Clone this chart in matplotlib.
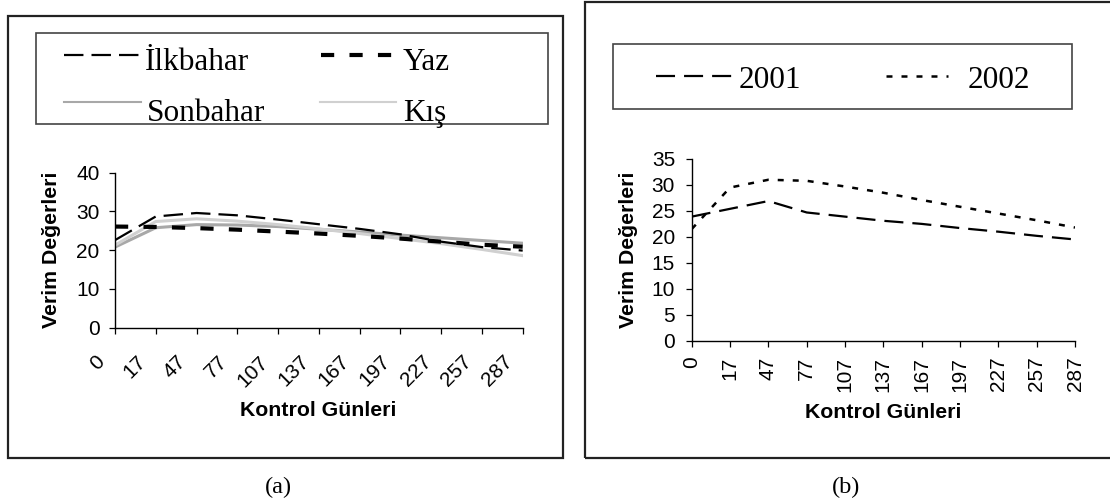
import matplotlib
matplotlib.use("Agg")
import matplotlib.pyplot as plt
from matplotlib.lines import Line2D
from matplotlib.patches import Rectangle
from matplotlib.transforms import ScaledTranslation

plt.rcParams['font.family'] = ['Liberation Sans', 'DejaVu Sans']
plt.rcParams['lines.scale_dashes'] = False

# control days (category axis)
days = ['0', '17', '47', '77', '107', '137', '167', '197', '227', '257', '287']

# (a) seasons
ilkbahar = [22.6, 28.7, 29.6, 29.0, 27.9, 26.7, 25.5, 24.1, 22.2, 20.8, 19.9]
yaz = [26.1, 26.0, 25.7, 25.3, 24.8, 24.3, 23.7, 23.0, 22.2, 21.4, 20.9]
sonbahar = [20.8, 25.8, 26.6, 26.5, 26.1, 25.4, 24.7, 23.9, 23.2, 22.5, 21.8]
kis = [21.3, 27.4, 28.1, 27.5, 26.6, 25.5, 24.3, 23.0, 21.7, 20.2, 18.6]

# (b) years
y2001 = [23.9, 25.4, 26.9, 24.7, 23.9, 23.1, 22.5, 21.7, 21.0, 20.2, 19.5]
y2002 = [21.5, 29.5, 31.0, 30.8, 29.7, 28.5, 27.1, 25.8, 24.5, 23.2, 21.8]

W, H = 1110, 503
fig = plt.figure(figsize=(W / 100, H / 100), dpi=100)


def fx(x):
    return x / W


def fy(y):
    return 1 - y / H


def box(x0, y0, x1, y1, lw, color):
    fig.add_artist(Rectangle((fx(x0), fy(y1)), fx(x1) - fx(x0), fy(y0) - fy(y1),
                             transform=fig.transFigure, fill=False,
                             lw=lw, edgecolor=color))


def key(x0, x1, y, style, label, tx, ty, lw=None):
    st = dict(style)
    if lw:
        st['lw'] = lw
    fig.add_artist(Line2D([fx(x0), fx(x1)], [fy(y), fy(y)],
                          transform=fig.transFigure, **st))
    fig.text(fx(tx), fy(ty), label, family=['Liberation Serif'], fontsize=22.5,
             va='baseline', ha='left')


st_ilk = dict(color='black', lw=1.6, dashes=(14, 5.8))
st_yaz = dict(color='black', lw=3.0, dashes=(9.5, 11))
st_son = dict(color='#a8a8a8', lw=2.2)
st_kis = dict(color='#d0d0d0', lw=2.2)
st_01 = dict(color='black', lw=1.6, dashes=(13.7, 6.5))
st_02 = dict(color='black', lw=1.8, dashes=(4.3, 6.5))


def style_axes(ax, ymax, ystep, ypad):
    for s in ['top', 'right']:
        ax.spines[s].set_visible(False)
    for s in ['left', 'bottom']:
        ax.spines[s].set_linewidth(1.0)
    ax.set_xlim(0, len(days) - 1)
    ax.set_ylim(0, ymax)
    ax.set_yticks(range(0, ymax + 1, ystep))
    ax.set_xticks(range(len(days)))
    ax.tick_params(axis='both', direction='out', length=4.5, width=0.9,
                   labelsize=15)
    ax.tick_params(axis='y', pad=ypad)
    ax.set_ylabel('Verim Değerleri', fontsize=15.3, fontweight='bold')
    ax.set_xlabel('Kontrol Günleri', fontsize=15.3, fontweight='bold')


# ---- panel (a)
box(8, 16, 563, 458, 1.6, '#222222')
axa = fig.add_axes([fx(115), fy(327.7), fx(522.7) - fx(115), fy(172.7) - fy(327.7)])
x = range(len(days))
axa.plot(x, sonbahar, **st_son)
axa.plot(x, kis, **st_kis)
axa.plot(x, yaz, **st_yaz)
axa.plot(x, ilkbahar, **st_ilk)
style_axes(axa, 40, 10, 6.5)
axa.set_xticklabels(days, rotation=45, ha='right', va='center',
                    rotation_mode='anchor')
axa.tick_params(axis='x', pad=18)
off = ScaledTranslation(-13 / 100, 0, fig.dpi_scale_trans)
for t in axa.get_xticklabels():
    t.set_transform(t.get_transform() + off)
axa.xaxis.set_label_coords((318 - 115) / 407.7, (327.7 - 410) / 155)
axa.xaxis.label.set_va('center')
axa.yaxis.set_label_coords((52 - 115) / 407.7, 0.5)
axa.yaxis.label.set_va('center')

box(36, 33, 548, 124, 1.2, '#444444')
key(64, 139, 55, st_ilk, 'İlkbahar', 145, 70)
key(321, 395, 55, st_yaz, 'Yaz', 403, 70)
key(64, 141, 102, st_son, 'Sonbahar', 147, 121, lw=1.5)
key(320, 396, 102, st_kis, 'Kış', 403, 121, lw=1.5)

fig.text(fx(278), fy(487), '(a)', family=['Liberation Serif'], fontsize=17.5,
         ha='center', va='center')

# ---- panel (b)
box(585, 2, 1112, 458, 1.6, '#222222')
axb = fig.add_axes([fx(691.7), fy(340.7), fx(1075) - fx(691.7), fy(159) - fy(340.7)])
axb.plot(x, y2001, **st_01)
axb.plot(x, y2002, **st_02)
style_axes(axb, 35, 5, 7.5)
axb.set_xticklabels(days, rotation=90)
axb.tick_params(axis='x', pad=7)
axb.xaxis.set_label_coords((883 - 691.7) / 383.3, (340.7 - 413) / 181.7)
axb.xaxis.label.set_va('center')
axb.yaxis.set_label_coords((628 - 691.7) / 383.3, 0.5)
axb.yaxis.label.set_va('center')

box(613, 44, 1072, 109, 1.2, '#444444')
key(656, 732, 76, st_01, '2001', 739, 88)
key(886, 948, 76, st_02, '2002', 968, 88)

fig.text(fx(846), fy(487), '(b)', family=['Liberation Serif'], fontsize=17.5,
         ha='center', va='center')

fig.savefig('out.png', dpi=100)
